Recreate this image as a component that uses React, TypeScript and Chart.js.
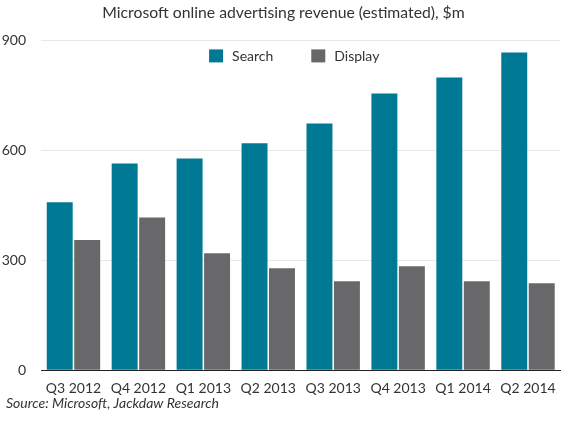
import React, { useEffect, useRef } from "react";
import { Chart, registerables } from "chart.js";

Chart.register(...registerables);

const categories = ["Q3 2012", "Q4 2012", "Q1 2013", "Q2 2013", "Q3 2013", "Q4 2013", "Q1 2014", "Q2 2014"];
const searchValues = [458, 564, 578, 619, 673, 755, 799, 867];
const displayValues = [355, 417, 319, 278, 243, 284, 243, 237];
const yTicks = [0, 300, 600, 900];
const seriesNames = ["Search", "Display"];
const titleText = "Microsoft online advertising revenue (estimated), $m";
const sourceText = "Source: Microsoft, Jackdaw Research";

const SEARCH_COLOR = "#007a94";
const DISPLAY_COLOR = "#68686a";
const TEXT_COLOR = "#333333";
const FONT = "Lato, 'Open Sans', sans-serif";

const insideLegend = {
  id: "insideLegend",
  afterLayout(chart: any) {
    // let y tick labels extend into the left padding without being clipped
    if (chart.scales.y) chart.scales.y.left = 0;
  },
  afterDraw(chart: any) {
    const { ctx, chartArea } = chart;
    const datasets = chart.data.datasets;
    ctx.save();
    ctx.font = `14px ${FONT}`;
    ctx.textBaseline = "middle";
    ctx.textAlign = "left";
    const boxW = 14;
    const boxH = 13;
    const gap = 9;
    const spacing = 38;
    const widths = datasets.map((d: any) => boxW + gap + ctx.measureText(d.label).width);
    const total = widths.reduce((a: number, b: number) => a + b, 0) + spacing * (datasets.length - 1);
    const center = (chartArea.left + chartArea.right) / 2 - 6.5;
    let x = center - total / 2;
    const y = chartArea.top + 9;
    datasets.forEach((d: any, i: number) => {
      ctx.fillStyle = d.backgroundColor;
      ctx.fillRect(x, y, boxW, boxH);
      ctx.fillStyle = TEXT_COLOR;
      ctx.fillText(d.label, x + boxW + gap, y + boxH / 2 + 0.5);
      x += widths[i] + spacing;
    });
    ctx.restore();
  },
};

export default function App() {
  const canvasRef = useRef<HTMLCanvasElement | null>(null);

  useEffect(() => {
    if (!canvasRef.current) return;
    const chart = new Chart(canvasRef.current, {
      type: "bar",
      data: {
        labels: categories,
        datasets: [
          {
            label: seriesNames[0],
            data: searchValues,
            backgroundColor: SEARCH_COLOR,
            categoryPercentage: 0.846,
            barPercentage: 0.945,
          },
          {
            label: seriesNames[1],
            data: displayValues,
            backgroundColor: DISPLAY_COLOR,
            categoryPercentage: 0.846,
            barPercentage: 0.945,
          },
        ],
      },
      options: {
        animation: false,
        responsive: true,
        maintainAspectRatio: false,
        layout: { padding: { left: 6, right: 5, top: 0, bottom: 0 } },
        plugins: {
          legend: { display: false },
          tooltip: { enabled: false },
          title: {
            display: true,
            text: titleText,
            color: TEXT_COLOR,
            font: { family: FONT, size: 15.75, weight: "normal", lineHeight: 1.2 },
            padding: { top: 3, bottom: 18.5 },
          },
          subtitle: {
            display: true,
            text: sourceText,
            position: "bottom",
            align: "start",
            color: TEXT_COLOR,
            font: { family: FONT, size: 14, style: "italic", weight: "normal", lineHeight: 1.2 },
            padding: { top: 0, bottom: 11 },
          },
        },
        scales: {
          x: {
            afterFit: (scale: any) => {
              scale.height = 25;
            },
            grid: { display: false, drawTicks: false },
            border: { display: true, color: "#222222", width: 1 },
            ticks: {
              color: TEXT_COLOR,
              font: { family: FONT, size: 14, lineHeight: 1.2 },
              padding: 10,
              maxRotation: 0,
              autoSkip: false,
            },
          },
          y: {
            min: 0,
            max: 900,
            afterBuildTicks: (scale: any) => {
              scale.ticks = yTicks.map((v) => ({ value: v }));
            },
            afterFit: (scale: any) => {
              scale.width = 35;
            },
            grid: {
              drawTicks: false,
              color: (c: any) => (c.tick && c.tick.value === 0 ? "rgba(0,0,0,0)" : "#e8e8e8"),
              lineWidth: 1,
            },
            border: { display: false },
            ticks: {
              color: TEXT_COLOR,
              font: { family: FONT, size: 14 },
              padding: 15,
            },
          },
        },
      },
      plugins: [insideLegend],
    });
    return () => chart.destroy();
  }, []);

  return (
    <div style={{ position: "fixed", left: 0, top: 0, width: 566, height: 423, background: "#fff" }}>
      <canvas ref={canvasRef} />
    </div>
  );
}
